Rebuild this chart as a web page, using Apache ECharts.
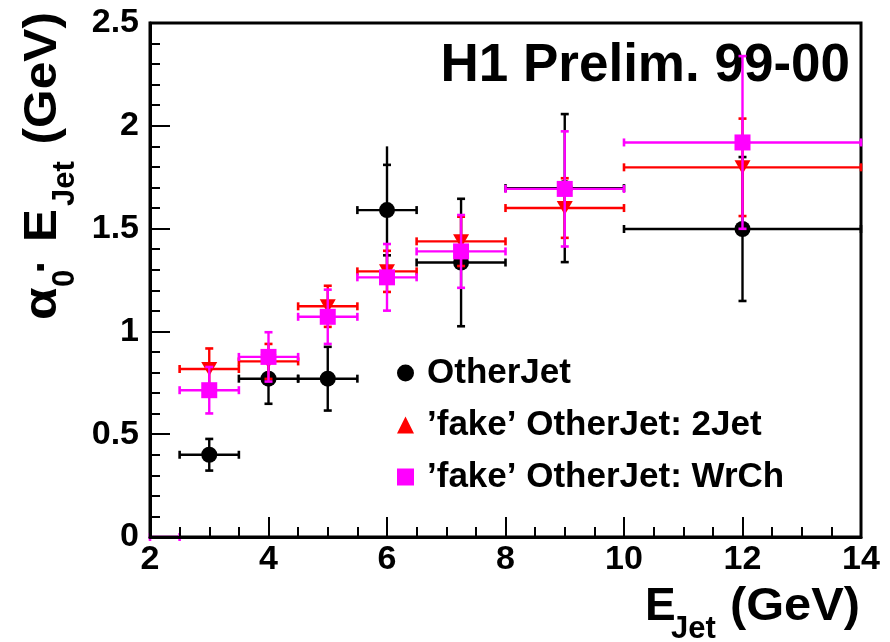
<!DOCTYPE html>
<html><head><meta charset="utf-8">
<script src="https://cdn.jsdelivr.net/npm/echarts@6/dist/echarts.min.js"></script>
<style>html,body{margin:0;padding:0;background:#fff}#c{width:890px;height:642px}</style>
</head><body><div id="c"></div>
<script>
// ---- data ----
const binCenters = [3, 4, 5, 6, 7.25, 9, 12];
const binLo      = [2.5, 3.5, 4.5, 5.5, 6.5, 8, 10];
const binHi      = [3.5, 4.5, 5.5, 6.5, 8, 10, 14];

const otherJet        = [0.400, 0.770, 0.770, 1.590, 1.335, 1.697, 1.498];
const otherJetErr     = [0.077, 0.122, 0.155, 0.220, 0.310, 0.360, 0.350]; // capped error
const otherJetErrTot  = [0.077, 0.122, 0.155, 0.310, 0.310, 0.360, 0.350]; // full line extent

const fake2Jet        = [0.817, 0.854, 1.122, 1.292, 1.438, 1.600, 1.798];
const fake2JetErr     = [0.100, 0.085, 0.100, 0.100, 0.120, 0.145, 0.237];

const fakeWrCh        = [0.714, 0.876, 1.071, 1.263, 1.389, 1.693, 1.919];
const fakeWrChErr     = [0.113, 0.120, 0.132, 0.162, 0.177, 0.280, 0.420];

// stray WrCh entry lying on the x axis (no marker drawn at value 0)
const wrChExtraCenter = [2.25];
const wrChExtraLo     = [2.0];
const wrChExtraHi     = [2.5];
const wrChExtraVal    = [0];
const wrChExtraErr    = [0];

const xTicks = [2, 4, 6, 8, 10, 12, 14];
const yTicks = [0, 0.5, 1, 1.5, 2, 2.5];

const seriesNames = ['OtherJet', '\u2019fake\u2019 OtherJet: 2Jet', '\u2019fake\u2019 OtherJet: WrCh'];
const seriesColors = ['#000000', '#ff0000', '#ff00ff'];

// ---- chart ----
const FONT = 'Liberation Sans, Arial, Helvetica, sans-serif';

function buildData(xs, ys, lo, hi, eCap, eTot) {
  return xs.map((x, i) => [x, ys[i], lo[i], hi[i],
    ys[i] - eCap[i], ys[i] + eCap[i], ys[i] - eTot[i], ys[i] + eTot[i]]);
}

function errSeries(name, color, data, marker, z) {
  return {
    type: 'custom', name, data, z,
    itemStyle: { color },
    encode: { x: [0, 2, 3], y: [1, 4, 5, 6, 7] },
    renderItem(params, api) {
      const x = api.value(0), y = api.value(1);
      const p = api.coord([x, y]);
      const pl = api.coord([api.value(2), y]);
      const ph = api.coord([api.value(3), y]);
      const cl = api.coord([x, api.value(4)]);
      const ch = api.coord([x, api.value(5)]);
      const tl = api.coord([x, api.value(6)]);
      const th = api.coord([x, api.value(7)]);
      const lw = 2.4, cap = 4;
      const kids = [];
      const seg = (x1, y1, x2, y2, w) => kids.push({ type: 'line', shape: { x1, y1, x2, y2 }, style: { stroke: color, lineWidth: w || lw } });
      seg(pl[0], p[1], ph[0], p[1]);
      seg(pl[0], p[1] - cap, pl[0], p[1] + cap, 2.6);
      seg(ph[0], p[1] - cap, ph[0], p[1] + cap, 2.6);
      if (Math.abs(th[1] - tl[1]) > 0.5) {
        seg(p[0], tl[1], p[0], th[1]);
        seg(p[0] - cap, cl[1], p[0] + cap, cl[1], 2.6);
        seg(p[0] - cap, ch[1], p[0] + cap, ch[1], 2.6);
      }
      if (y > 0) {
        if (marker === 'circle') {
          kids.push({ type: 'circle', shape: { cx: p[0], cy: p[1], r: 8 }, style: { fill: color } });
        } else if (marker === 'rect') {
          kids.push({ type: 'rect', shape: { x: p[0] - 8, y: p[1] - 8, width: 16, height: 16 }, style: { fill: color } });
        } else {
          kids.push({ type: 'polygon', shape: { points: [[p[0] - 8, p[1] - 7], [p[0] + 8, p[1] - 7], [p[0], p[1] + 7]] }, style: { fill: color } });
        }
      }
      return { type: 'group', children: kids };
    }
  };
}

const wrChX = binCenters.concat(wrChExtraCenter);
const wrChY = fakeWrCh.concat(wrChExtraVal);
const wrChLo = binLo.concat(wrChExtraLo);
const wrChHi = binHi.concat(wrChExtraHi);
const wrChE = fakeWrChErr.concat(wrChExtraErr);

const chart = echarts.init(document.getElementById('c'), null, { renderer: 'canvas' });

const labelStyle = { fontFamily: FONT, fontWeight: 'bold', fontSize: 34, color: '#000' };
const T = (text, x, y, size, opts, align) => Object.assign({
  type: 'text', x, y,
  style: { text, font: 'bold ' + size + 'px ' + FONT, fill: '#000', textAlign: align || 'left', verticalAlign: 'middle' }
}, opts || {});

chart.setOption({
  animation: false,
  backgroundColor: '#fff',
  grid: { left: 150, right: 29, top: 23, bottom: 105, show: true, borderColor: '#000', borderWidth: 3, containLabel: false },
  xAxis: {
    type: 'value', min: xTicks[0], max: xTicks[xTicks.length - 1], interval: 2, z: 5,
    axisLine: { show: true, onZero: false, lineStyle: { color: '#000', width: 3 } },
    axisTick: { show: true, inside: true, length: 20, lineStyle: { color: '#000', width: 2 } },
    minorTick: { show: true, splitNumber: 4, length: 10, lineStyle: { color: '#000', width: 2 } },
    splitLine: { show: false },
    axisLabel: Object.assign({ margin: 6, showMinLabel: true, showMaxLabel: true }, labelStyle)
  },
  yAxis: {
    type: 'value', min: yTicks[0], max: yTicks[yTicks.length - 1], interval: 0.5, z: 5,
    axisLine: { show: true, onZero: false, lineStyle: { color: '#000', width: 3 } },
    axisTick: { show: true, inside: true, length: 20, lineStyle: { color: '#000', width: 2 } },
    minorTick: { show: true, splitNumber: 5, length: 10, lineStyle: { color: '#000', width: 2 } },
    splitLine: { show: false },
    axisLabel: Object.assign({ margin: 11, showMinLabel: true, showMaxLabel: true }, labelStyle)
  },
  legend: {
    orient: 'vertical', left: 392, top: 350, itemWidth: 17, itemHeight: 17, itemGap: 16,
    selectedMode: false,
    textStyle: { fontFamily: FONT, fontWeight: 'bold', fontSize: 35, color: '#000', lineHeight: 36, padding: [0, 0, 0, 8] },
    data: [
      { name: seriesNames[0], icon: 'circle' },
      { name: seriesNames[1], icon: 'triangle' },
      { name: seriesNames[2], icon: 'rect' }
    ]
  },
  graphic: [
    T('H1 Prelim. 99-00', 850, 66, 53, { z: 0 }, 'right'),
    // x axis title
    T('E', 645, 607, 46),
    T('Jet', 671, 629, 31),
    T('(GeV)', 860, 607, 46, { scaleX: 1.06 }, 'right'),
    // y axis title (rotated)
    T('\u03b1', 43, 320, 46, { rotation: Math.PI / 2, scaleX: 1.15 }),
    T('0', 65, 287, 31, { rotation: Math.PI / 2 }),
    T('\u00b7', 43, 266, 46, { rotation: Math.PI / 2 }, 'center'),
    T('E', 43, 242, 46, { rotation: Math.PI / 2, scaleX: 1.07 }),
    T('Jet', 65, 206, 31, { rotation: Math.PI / 2 }),
    T('(GeV)', 43, 12, 46, { rotation: Math.PI / 2, scaleX: 1.08 }, 'right')
  ],
  series: [
    errSeries(seriesNames[0], seriesColors[0], buildData(binCenters, otherJet, binLo, binHi, otherJetErr, otherJetErrTot), 'circle', 2),
    errSeries(seriesNames[1], seriesColors[1], buildData(binCenters, fake2Jet, binLo, binHi, fake2JetErr, fake2JetErr), 'triangleDown', 3),
    errSeries(seriesNames[2], seriesColors[2], buildData(wrChX, wrChY, wrChLo, wrChHi, wrChE, wrChE), 'rect', 4)
  ]
});
</script>
</body></html>
